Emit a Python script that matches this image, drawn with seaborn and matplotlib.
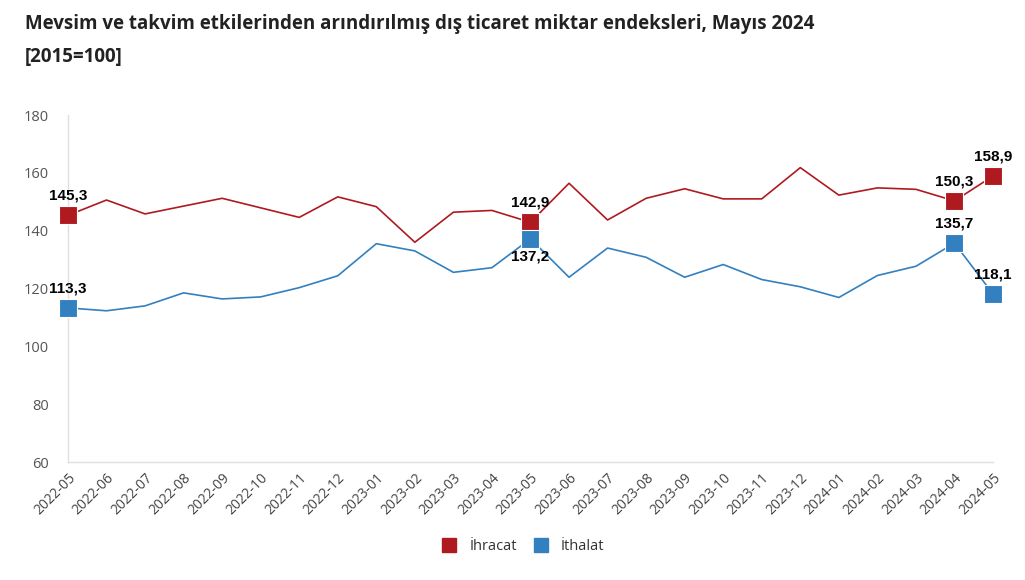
import matplotlib
matplotlib.use("Agg")
import matplotlib.pyplot as plt
import seaborn as sns
import pandas as pd
from matplotlib.lines import Line2D

# Data
months = ["2022-05", "2022-06", "2022-07", "2022-08", "2022-09", "2022-10", "2022-11",
          "2022-12", "2023-01", "2023-02", "2023-03", "2023-04", "2023-05", "2023-06",
          "2023-07", "2023-08", "2023-09", "2023-10", "2023-11", "2023-12", "2024-01",
          "2024-02", "2024-03", "2024-04", "2024-05"]
ihracat = [145.3, 150.6, 145.8, 148.5, 151.2, 147.9, 144.6, 151.7, 148.3, 136.0, 146.4,
           147.0, 142.9, 156.4, 143.7, 151.2, 154.5, 151.0, 151.0, 161.8, 152.3, 154.8,
           154.3, 150.3, 158.9]
ithalat = [113.3, 112.3, 114.0, 118.5, 116.4, 117.1, 120.3, 124.4, 135.5, 133.0, 125.6,
           127.2, 137.2, 123.9, 134.0, 130.8, 123.9, 128.3, 123.1, 120.6, 116.9, 124.5,
           127.7, 135.7, 118.1]
highlight = [0, 12, 23, 24]

red = "#af1a21"
blue = "#3280bf"

df = pd.DataFrame({"x": range(len(months)), "ihracat": ihracat, "ithalat": ithalat})

sns.set_style("white")
plt.rcParams['font.family'] = ['Open Sans', 'DejaVu Sans']

fig = plt.figure(figsize=(10.25, 5.8), dpi=100)
ax = fig.add_axes([0.0663, 0.2034, 0.9025, 0.5983])

sns.lineplot(data=df, x="x", y="ihracat", color=red, linewidth=1.2, ax=ax)
sns.lineplot(data=df, x="x", y="ithalat", color=blue, linewidth=1.2, ax=ax)

hl = df.iloc[highlight]
sns.scatterplot(data=hl, x="x", y="ihracat", color=red, marker="s", s=170,
                edgecolor="white", linewidth=0.8, ax=ax, zorder=5, clip_on=False)
sns.scatterplot(data=hl, x="x", y="ithalat", color=blue, marker="s", s=170,
                edgecolor="white", linewidth=0.8, ax=ax, zorder=5, clip_on=False)

# Data labels
lab_kw = dict(fontsize=11, fontweight="bold", color="black", family="Liberation Sans",
              ha="center", zorder=6)
def fmt(v):
    return f"{v:.1f}".replace(".", ",")

for i in highlight:
    ax.annotate(fmt(ihracat[i]), (i, ihracat[i]), xytext=(0, 9), textcoords="offset points",
                va="bottom", **lab_kw)
for i in highlight:
    if i == 12:
        ax.annotate(fmt(ithalat[i]), (i, ithalat[i]), xytext=(0, -8), textcoords="offset points",
                    va="top", **lab_kw)
    else:
        ax.annotate(fmt(ithalat[i]), (i, ithalat[i]), xytext=(0, 9), textcoords="offset points",
                    va="bottom", **lab_kw)

ax.set_xlim(0, len(months) - 1)
ax.set_ylim(60, 180)
ax.set_yticks(range(60, 181, 20))
ax.set_xticks(range(len(months)))
ax.set_xticklabels(months, rotation=45, ha="right", rotation_mode="anchor")
ax.tick_params(axis="x", colors="#444444", labelsize=10, length=0, pad=6)
ax.tick_params(axis="y", colors="#555555", labelsize=10.5, length=0, pad=14)
ax.set_xlabel("")
ax.set_ylabel("")
for s in ["top", "right"]:
    ax.spines[s].set_visible(False)
for s in ["left", "bottom"]:
    ax.spines[s].set_color("#e0e0e0")
    ax.spines[s].set_linewidth(1)
ax.grid(False)

fig.text(0.024, 0.958, "Mevsim ve takvim etkilerinden arındırılmış dış ticaret miktar endeksleri, Mayıs 2024",
         fontsize=13.5, fontweight="bold", color="#222222", va="center")
fig.text(0.024, 0.902, "[2015=100]", fontsize=13.5, fontweight="bold", color="#222222", va="center")

handles = [Line2D([], [], marker="s", color=red, linestyle="", markersize=10),
           Line2D([], [], marker="s", color=blue, linestyle="", markersize=10)]
fig.legend(handles, ["İhracat", "İthalat"], loc="center", bbox_to_anchor=(0.507, 0.057),
           ncol=2, frameon=False, fontsize=10.5, handletextpad=0.4, columnspacing=0.6,
           labelcolor="#333333")

fig.savefig("out.png", dpi=100)
